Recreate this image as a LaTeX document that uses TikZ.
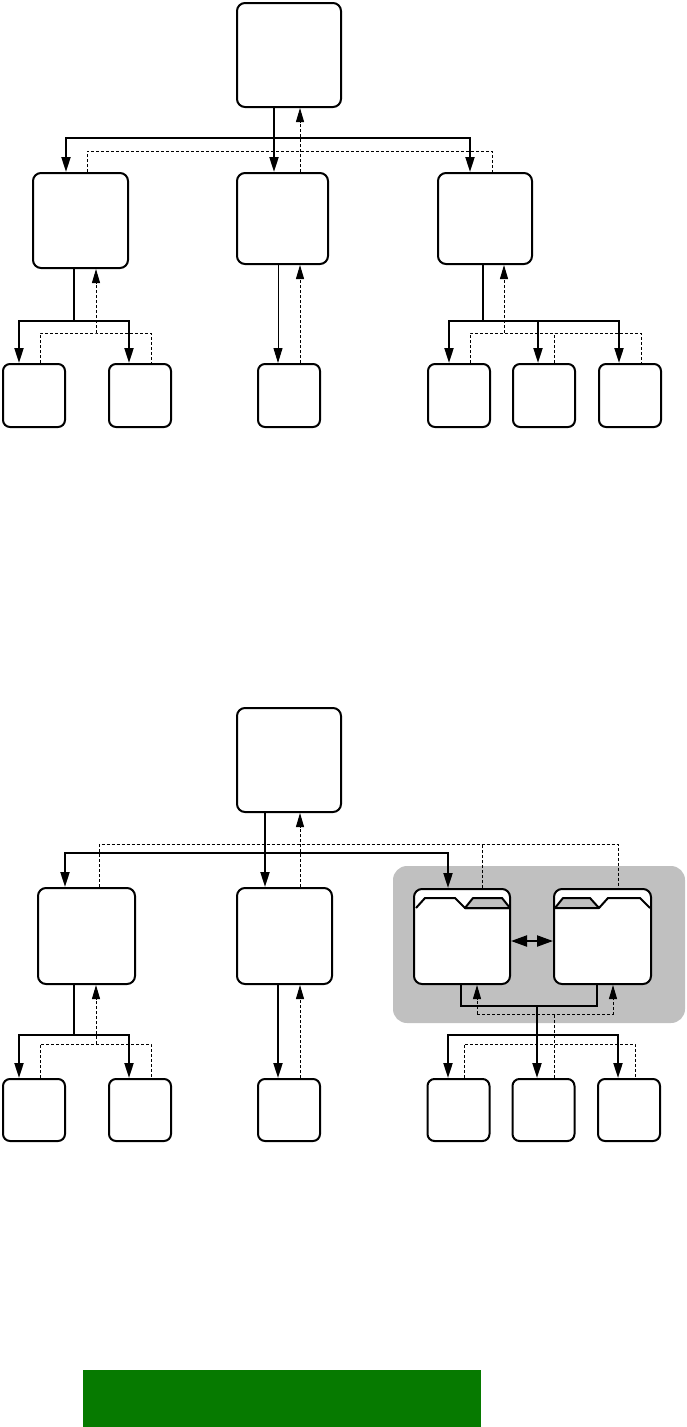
\documentclass[tikz,border=0pt]{standalone}
\usepackage{tikz}
\usetikzlibrary{arrows.meta,positioning}
\definecolor{grpgray}{RGB}{192,192,192}
\definecolor{bargreen}{RGB}{6,122,0}

\begin{document}
\begin{tikzpicture}[x=1pt,y=-1pt,>={Triangle[length=15pt,width=9pt]},
  box/.style 2 args={draw,line width=2pt,rounded corners=8pt,fill=white,
    inner sep=0pt,minimum width=#1pt,minimum height=#2pt},
  leaf/.style={box={62}{63},rounded corners=7pt},
  grp/.style={fill=grpgray,rounded corners=14pt,inner sep=0pt,
    minimum width=292pt,minimum height=157pt},
  wire/.style={line width=2pt},
  thinwire/.style={line width=1pt},
  dsh/.style={line width=1pt,dash pattern=on 3pt off 2pt,
    >={Triangle[length=14pt,width=8pt]}},
  tab/.style={line width=2pt,line join=round}]
\useasboundingbox (0,0) rectangle (687,1427);
% upper tree
\node[box={104}{104}] (root) at (289,55) {};
\node[box={95}{95}] (ml) at (80.5,220.5) {};
\node[box={91}{91}] (mc) at (282.5,218.5) {};
\node[box={94}{91}] (mr) at (485,218.5) {};
\foreach \n/\x in {1/34,2/140,3/289,4/459,5/544,6/630}
  \node[leaf] (lf\n) at (\x,395.5) {};
\coordinate (tb) at ([xshift=-15pt,yshift=-30pt]root.south);
\coordinate (td) at ([xshift=11pt,yshift=-43pt]root.south);
\draw[wire,->] ([xshift=-15pt]root.south) -- ([xshift=-15pt]root.south |- mc.north);
\draw[wire,->] (tb) -| ([xshift=-14.5pt]ml.north);
\draw[wire,->] (tb) -| ([xshift=-15pt]mr.north);
\draw[dsh,->] ([xshift=17.5pt]mc.north) -- ([xshift=17.5pt]mc.north |- root.south);
\draw[dsh] ([xshift=6.5pt]ml.north) |- (td) -| ([xshift=7pt]mr.north);
\coordinate (lb1) at ([xshift=-6.5pt,yshift=-52pt]ml.south);
\coordinate (ld1) at ([xshift=15.5pt,yshift=-64pt]ml.south);
\draw[wire] ([xshift=-6.5pt]ml.south) -- (lb1);
\draw[wire,->] (lb1) -| ([xshift=-15pt]lf1.north);
\draw[wire,->] (lb1) -| ([xshift=-11pt]lf2.north);
\draw[dsh,->] (ld1) -- ([xshift=15.5pt]ml.south);
\draw[dsh] ([xshift=6pt]lf1.north) |- (ld1) -| ([xshift=11pt]lf2.north);
\draw[thinwire,->] ([xshift=-4.5pt]mc.south) -- ([xshift=-4.5pt]mc.south |- lf3.north);
\draw[dsh,->] ([xshift=11pt]lf3.north) -- ([xshift=11pt]lf3.north |- mc.south);
\coordinate (lb3) at ([xshift=-2pt,yshift=-56pt]mr.south);
\coordinate (ld3) at ([xshift=19pt,yshift=-68pt]mr.south);
\draw[wire] ([xshift=-2pt]mr.south) -- (lb3);
\draw[wire,->] (lb3) -| ([xshift=-10pt]lf4.north);
\draw[wire,->] (lb3) -| ([xshift=-11pt]lf6.north);
\draw[wire,->] ([xshift=-6pt]lf5.north |- lb3) -- ([xshift=-6pt]lf5.north);
\draw[dsh,->] (ld3) -- ([xshift=19pt]mr.south);
\draw[dsh] ([xshift=11pt]lf4.north) |- (ld3) -| ([xshift=11pt]lf6.north);
\draw[dsh] ([xshift=10pt]lf5.north) -- ([xshift=10pt]lf5.north |- ld3);
% lower tree
\node[box={104}{104}] (root2) at (289,760) {};
\node[box={97}{96}] (ml2) at (86.5,936) {};
\node[box={95}{96}] (mc2) at (284.5,936) {};
\node[grp] (grp) at (539,944.5) {};
\node[box={96}{95}] (pa) at (462,936.5) {};
\node[box={97}{95}] (pb) at (602.5,936.5) {};
\foreach \n/\x in {1/34,2/140,3/289,4/458.5,5/543.5,6/629}
  \node[box={62}{62},rounded corners=7pt] (lg\n) at (\x,1110) {};
\draw[tab,shift={(pa.north west)}] (3,20) -- (12,10) -- (42,10) -- (52,20) -- (97,20);
\filldraw[tab,fill=grpgray,shift={(pa.north west)}] (52,20) -- (60,10) -- (89,10) -- (97,20) -- cycle;
\filldraw[tab,fill=grpgray,shift={(pb.north west)}] (2,20) -- (10,10) -- (37,10) -- (46,20) -- cycle;
\draw[tab,shift={(pb.north west)}] (46,20) -- (55,10) -- (87,10) -- (97,20);
\draw[wire,{Triangle[length=16pt,width=11pt]}-{Triangle[length=16pt,width=11pt]}]
  ([yshift=-4.5pt]pa.east) -- ([yshift=-4.5pt]pb.west);
\coordinate (bb) at ([xshift=-24pt,yshift=-40pt]root2.south);
\coordinate (bd) at ([xshift=11pt,yshift=-31pt]root2.south);
\draw[wire,->] ([xshift=-24pt]root2.south) -- ([xshift=-24pt]root2.south |- mc2.north);
\draw[wire,->] (bb) -| ([xshift=-21.5pt]ml2.north);
\draw[wire,->] (bb) -| ([xshift=-14pt]pa.north);
\draw[dsh,->] ([xshift=15.5pt]mc2.north) -- ([xshift=15.5pt]mc2.north |- root2.south);
\draw[dsh] ([xshift=13pt]ml2.north) |- (bd) -| ([xshift=15.5pt]pb.north);
\draw[dsh] ([xshift=20pt]pa.north) -- ([xshift=20pt]pa.north |- bd);
\coordinate (lb4) at ([xshift=-12.5pt,yshift=-50pt]ml2.south);
\coordinate (ld4) at ([xshift=9.5pt,yshift=-59pt]ml2.south);
\draw[wire] ([xshift=-12.5pt]ml2.south) -- (lb4);
\draw[wire,->] (lb4) -| ([xshift=-15pt]lg1.north);
\draw[wire,->] (lb4) -| ([xshift=-11pt]lg2.north);
\draw[dsh,->] (ld4) -- ([xshift=9.5pt]ml2.south);
\draw[dsh] ([xshift=6pt]lg1.north) |- (ld4) -| ([xshift=11pt]lg2.north);
\draw[wire,->] ([xshift=-6.5pt]mc2.south) -- ([xshift=-6.5pt]mc2.south |- lg3.north);
\draw[dsh,->] ([xshift=11pt]lg3.north) -- ([xshift=11pt]lg3.north |- mc2.south);
\coordinate (gb) at ([xshift=-1pt,yshift=-21pt]pa.south);
\coordinate (gd) at ([xshift=15pt,yshift=-29pt]pa.south);
\coordinate (lb5) at ([xshift=-6.5pt,yshift=43pt]lg5.north);
\coordinate (ld5) at ([xshift=10.5pt,yshift=34pt]lg5.north);
\draw[wire] ([xshift=-1pt]pa.south) -- (gb) -| ([xshift=-5.5pt]pb.south);
\draw[wire,->] ([xshift=-6.5pt]lg5.north |- gb) -- ([xshift=-6.5pt]lg5.north);
\draw[wire,->] (lb5) -| ([xshift=-10.5pt]lg4.north);
\draw[wire,->] (lb5) -| ([xshift=-11pt]lg6.north);
\draw[dsh,->] (gd) -- ([xshift=15pt]pa.south);
\draw[dsh,->] (gd) -| ([xshift=10.5pt]pb.south);
\draw[dsh] ([xshift=10.5pt]lg5.north) -- ([xshift=10.5pt]lg5.north |- gd);
\draw[dsh] ([xshift=5.5pt]lg4.north) |- (ld5) -| ([xshift=6pt]lg6.north);
% bar
\fill[bargreen] (83,1370) rectangle (481,1427);
\end{tikzpicture}
\end{document}
